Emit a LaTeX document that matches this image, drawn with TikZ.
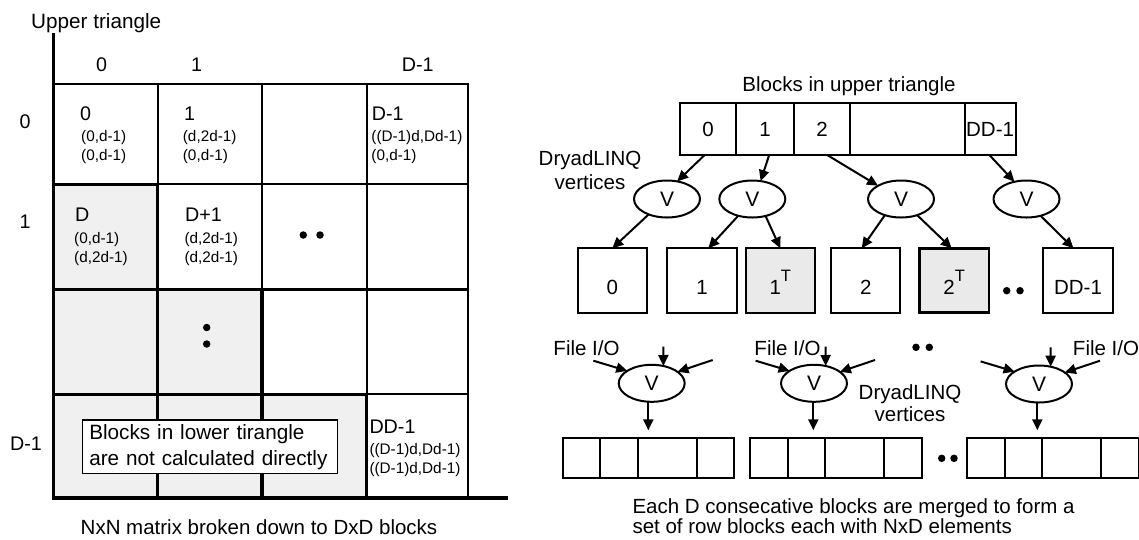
\documentclass[tikz,border=0pt]{standalone}
\usepackage{fontspec}
\setmainfont{Liberation Sans}
\usetikzlibrary{arrows.meta,shapes.geometric,calc}
\definecolor{cellgray}{RGB}{240,240,240}
\definecolor{boxgray}{RGB}{234,234,234}

\begin{document}
\begin{tikzpicture}[x=1pt,y=-1pt,
  thinln/.style={line width=2.1pt},
  thickln/.style={line width=3.5pt,line join=miter},
  lbl/.style={inner sep=0pt,font=\fontsize{19.7}{22}\selectfont},
  big/.style={inner sep=0pt,anchor=west,font=\fontsize{19.7}{22}\selectfont},
  sml/.style={inner sep=0pt,anchor=west,font=\fontsize{15.3}{17}\selectfont},
  txt/.style={inner sep=0pt,anchor=base,font=\fontsize{20.5}{24}\selectfont},
  arr/.style={line width=2pt,-{Triangle[length=11pt,width=10pt]}},
  vtx/.style={ellipse,draw,line width=2pt,minimum width=66pt,minimum height=37pt,
              inner sep=0pt,outer sep=0pt,font=\fontsize{21}{24}\selectfont},
  topblk/.style={draw,line width=2pt,minimum height=51.4pt,inner sep=0pt,outer sep=0pt,
                 font=\fontsize{20.5}{24}\selectfont},
  outblk/.style={draw,line width=2pt,minimum width=69.5pt,minimum height=64.4pt,
                 inner sep=0pt,outer sep=0pt,text height=27.2pt,text depth=0pt,
                 font=\fontsize{20.5}{24}\selectfont},
  rowblk/.style={draw,line width=2pt,minimum width=171.5pt,minimum height=40pt,
                 inner sep=0pt,outer sep=0pt},
  dot/.style={circle,fill,inner sep=0pt,minimum size=7.5pt},
  supT/.style={},
]
\useasboundingbox (0,0) rectangle (1139,539);

% ---------------- left: the block matrix ----------------
\node[txt,anchor=base west,font=\fontsize{20.7}{24}\selectfont] (ut) at (31,28) {Upper triangle};

% plain grid
\draw[thinln] (53.3,84) rectangle (468.3,497.8);
\foreach \x in {157.7,262,366.7} \draw[thinln] (\x,84) -- (\x,497.8);
\foreach \y in {184.3,289.5,394.3} \draw[thinln] (53.3,\y) -- (468.3,\y);

% lower-triangle blocks
\draw[thickln,fill=cellgray] (53.3,184.3) rectangle (157.7,289.5);
\draw[thickln,fill=cellgray] (53.3,289.5) rectangle (157.7,394.3);
\draw[thickln,fill=cellgray] (157.7,289.5) rectangle (262,394.3);
\draw[thickln,fill=cellgray] (53.3,394.3) rectangle (157.7,497.8);
\draw[thickln,fill=cellgray] (157.7,394.3) rectangle (262,497.8);
\draw[thickln,fill=cellgray] (262,394.3) rectangle (366.7,497.8);

% axes
\draw[thickln] (53.3,33.3) -- (53.3,497.8) -- (508.3,497.8);

% row and column indices
\node[lbl] (k0) at (101.7,65) {0};
\node[lbl] (k1) at (196.7,65) {1};
\node[lbl] (k3) at (417.7,65) {D-1};
\node[lbl] (r0) at (25,121.7) {0};
\node[lbl] (r1) at (25,221.7) {1};
\node[lbl] (r3) at (26,443.3) {D-1};

% block contents
\node[big] (b00) at (80,113.3) {0};
\node[sml] (b00a) at (81,137.7) {(0,d-1)};
\node[sml] (b00b) at (81,156.7) {(0,d-1)};

\node[big] (b01) at (184,113.3) {1};
\node[sml] (b01a) at (182.7,137.7) {(d,2d-1)};
\node[sml] (b01b) at (182.7,156.7) {(0,d-1)};

\node[big] (b03) at (371.7,113.3) {D-1};
\node[sml] (b03a) at (371.2,137.7) {((D-1)d,Dd-1)};
\node[sml] (b03b) at (371.2,156.7) {(0,d-1)};

\node[big] (b10) at (75,215) {D};
\node[sml] (b10a) at (74,239.3) {(0,d-1)};
\node[sml] (b10b) at (74,258.3) {(d,2d-1)};

\node[big] (b11) at (185,215) {D+1};
\node[sml] (b11a) at (184.3,239.3) {(d,2d-1)};
\node[sml] (b11b) at (184.3,258.3) {(d,2d-1)};

\node[big] (b33) at (369.3,426.7) {DD-1};
\node[sml] (b33a) at (369.3,450.7) {((D-1)d,Dd-1)};
\node[sml] (b33b) at (369.3,470) {((D-1)d,Dd-1)};

\node[dot] (h1) at (303.3,235) {};
\node[dot] (h2) at (320,235) {};
\node[dot] (v1) at (206.7,327.5) {};
\node[dot] (v2) at (206.7,344) {};

\node[draw,line width=1.4pt,fill=white,minimum width=254.6pt,minimum height=53.3pt,
      inner xsep=6.6pt,inner ysep=0pt,text width=241.4pt,align=left,
      font=\fontsize{20.7}{26}\selectfont] (lower) at (210,446.7)
      {Blocks in lower tirangle\\are not calculated directly};

\node[txt] (cap1) at (259,534) {NxN matrix broken down to DxD blocks};

% ---------------- right: the DryadLINQ stages ----------------
\node[txt] (upt) at (849,91.7) {Blocks in upper triangle};

\node[topblk,minimum width=55.7pt] (tb0) at (708.15,129) {0};
\node[topblk,minimum width=58.3pt] (tb1) at (765.15,129) {1};
\node[topblk,minimum width=55.4pt] (tb2) at (822,129) {2};
\node[topblk,minimum width=115pt]  (tb3) at (907.2,129) {};
\node[topblk,minimum width=50.8pt] (tb4) at (990.1,129) {DD-1};

\node[txt] (dl1a) at (590,165.4) {DryadLINQ};
\node[txt] (dl1b) at (590,189.5) {vertices};

\node[vtx] (V1) at (667,199) {V};
\node[vtx] (V2) at (752.3,199) {V};
\node[vtx] (V3) at (901,199) {V};
\node[vtx] (V4) at (1026.5,199) {V};

\draw[arr] ([xshift=-3.2pt]tb0.south) -- (V1.60);
\draw[arr] ([xshift=4.1pt]tb1.south) -- (V2.65);
\draw[arr] ([xshift=4.7pt]tb2.south) -- (V3.150);
\draw[arr] ([xshift=-1pt]tb4.south) -- (V4.125);

\node[outblk] (bb0) at (612.3,280.5) {0};
\node[outblk] (bb1) at (702,280.5) {1};
\node[outblk,fill=boxgray] (bb1T) at (780.3,280.5)
  {1\raisebox{13pt}{\fontsize{16.5}{16}\selectfont T}};
\node[outblk] (bb2) at (865.7,280.5) {2};
\node[outblk,fill=boxgray,line width=2.9pt] (bb2T) at (954.2,280.5)
  {2\raisebox{13pt}{\fontsize{16.5}{16}\selectfont T}};
\node[outblk] (bbD) at (1078,280.5) {DD-1};

\draw[arr] (V1.220) -- (bb0.north);
\draw[arr] (V2.230) -- ([xshift=6.3pt]bb1.north);
\draw[arr] (V2.-52) -- (bb1T.north);
\draw[arr] (V3.225) -- ([xshift=-4pt]bb2.north);
\draw[arr] (V3.-45) -- ([xshift=-2.5pt]bb2T.north);
\draw[arr] (V4.-50) -- ([xshift=-4.5pt]bbD.north);

\node[dot] (m1) at (1006.7,290.7) {};
\node[dot] (m2) at (1020,290.7) {};

% merge stage
\node[txt] (fio1) at (586.5,355.4) {File I/O};
\node[txt] (fio2) at (787.5,355.4) {File I/O};
\node[txt] (fio3) at (1106,355.4) {File I/O};
\node[dot] (n1) at (916,347.3) {};
\node[dot] (n2) at (929.3,347.3) {};

\node[vtx] (L1) at (651.7,383.3) {V};
\node[vtx] (L2) at (814,383.3) {V};
\node[vtx] (L3) at (1039,384) {V};

\node[txt] (dl2a) at (910,399.4) {DryadLINQ};
\node[txt] (dl2b) at (910,421.5) {vertices};

\coordinate (a1l) at (593.3,360.7);
\coordinate (a1t) at (663.3,346.7);
\coordinate (a1r) at (712.7,360);
\coordinate (a2l) at (755.6,360.7);
\coordinate (a2t) at (825.6,346.7);
\coordinate (a2r) at (875,360);
\coordinate (a3l) at (980.6,361.4);
\coordinate (a3t) at (1050.6,347.4);
\coordinate (a3r) at (1100,360.7);

\draw[arr] (a1l) -- (L1.153);
\draw[arr] (a1t) -- (L1.56);
\draw[arr] (a1r) -- (L1.24);
\draw[arr] (a2l) -- (L2.153);
\draw[arr] (a2t) -- (L2.56);
\draw[arr] (a2r) -- (L2.24);
\draw[arr] (a3l) -- (L3.153);
\draw[arr] (a3t) -- (L3.56);
\draw[arr] (a3r) -- (L3.24);

\node[rowblk] (R1) at (648.45,458.3) {};
\node[rowblk] (R2) at (835.75,458.3) {};
\node[rowblk] (R3) at (1052.75,458.3) {};
\foreach \r in {R1,R2,R3}
  \foreach \d in {37.7,75,134.3}
    \draw[line width=2pt] ([xshift=\d pt]\r.north west) -- ([xshift=\d pt]\r.south west);

\draw[arr] ([xshift=-3.4pt]L1.south) -- ([xshift=-3.4pt,yshift=8pt]L1.south |- R1.north);
\draw[arr] ([xshift=-0.7pt]L2.south) -- ([xshift=-0.7pt,yshift=8pt]L2.south |- R2.north);
\draw[arr] ([xshift=-1.7pt]L3.south) -- ([xshift=-1.7pt,yshift=8pt]L3.south |- R3.north);

\node[dot] (p1) at (941.7,458.3) {};
\node[dot] (p2) at (954,458.3) {};

\node[txt,anchor=base west] (cap2a) at (632.3,513.3) {Each D consecative blocks are merged to form a};
\node[txt,anchor=base west] (cap2b) at (632.3,533.3) {set of row blocks each with NxD elements};
\end{tikzpicture}
\end{document}
